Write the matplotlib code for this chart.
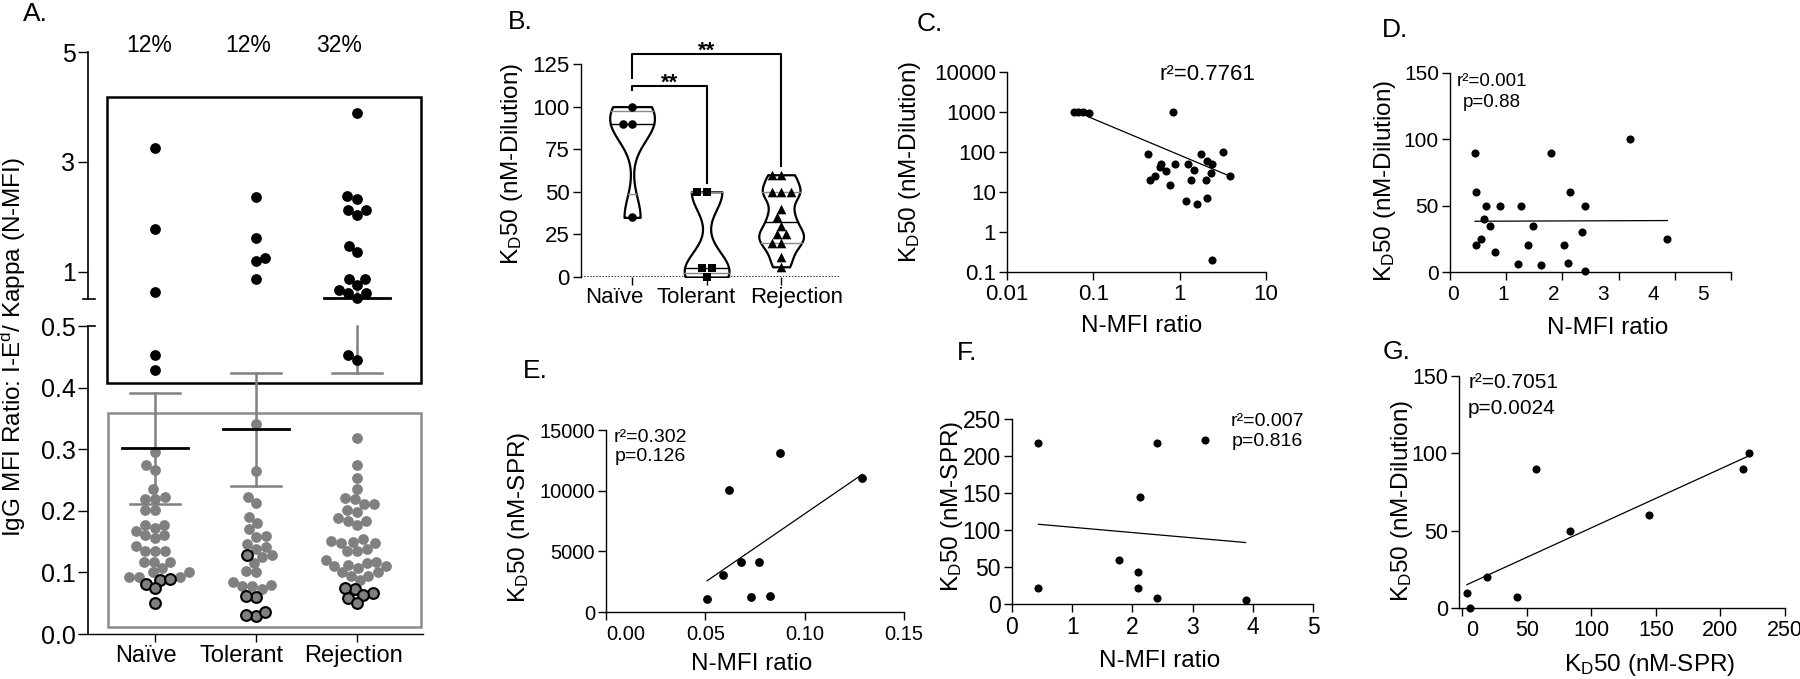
import numpy as np
import matplotlib
matplotlib.use("Agg")
import matplotlib.pyplot as plt
from matplotlib.patches import Rectangle
from matplotlib.ticker import NullLocator

# ----------------------------- Datos ----------------------------------------
GROUPS = ["Naïve", "Tolerant", "Rejection"]

# A. N-MFI ratio por ratón (pos = recuadro negro, neg = gris, neg_low = gris con borde)
A_NAIVE_POS = [3.25, 1.78, 0.64, 0.453, 0.429]
A_TOL_POS = [2.37, 1.62, 1.25, 1.19, 0.87]
A_REJ_POS = [3.89, 2.38, 2.33, 2.13, 2.13, 2.04, 1.47, 1.36, 0.87, 0.87,
             0.76, 0.67, 0.62, 0.62, 0.53, 0.453, 0.446]

A_NAIVE_NEG = [0.296, 0.274, 0.266, 0.235, 0.219, 0.223, 0.219, 0.202, 0.202,
               0.178, 0.178, 0.173, 0.167, 0.161, 0.161, 0.156, 0.143, 0.135,
               0.135, 0.135, 0.117, 0.117, 0.117, 0.108, 0.100, 0.100, 0.093,
               0.093, 0.093]
A_TOL_NEG = [0.341, 0.265, 0.222, 0.213, 0.191, 0.181, 0.170, 0.159, 0.158,
             0.146, 0.142, 0.139, 0.129, 0.126, 0.116, 0.103, 0.100, 0.084,
             0.080, 0.078, 0.078, 0.073]
A_REJ_NEG = [0.319, 0.274, 0.253, 0.235, 0.221, 0.219, 0.211, 0.212, 0.202,
             0.199, 0.189, 0.184, 0.184, 0.178, 0.150, 0.148, 0.148, 0.151,
             0.155, 0.138, 0.135, 0.135, 0.120, 0.117, 0.115, 0.110, 0.112,
             0.110, 0.107, 0.100, 0.100, 0.095, 0.095, 0.087]

A_NAIVE_LOW = [0.088, 0.089, 0.082, 0.074, 0.051]
A_TOL_LOW = [0.128, 0.060, 0.062, 0.029, 0.035, 0.031]
A_REJ_LOW = [0.073, 0.075, 0.067, 0.064, 0.058, 0.051]

A_MEAN = [0.302, 0.333, 0.53]
A_SD = [0.090, 0.092, 0.106]
A_PCT = ["12%", "12%", "32%"]

# B. KD50 (nM-Dilution)
B_NAIVE = [100, 90, 90, 35]
B_TOL = [50, 50, 5, 5, 0]
B_REJ = [60, 60, 50, 50, 50, 40, 35, 30, 25, 25, 20, 20, 12, 6]

# C. N-MFI ratio vs KD50 (log-log)
C_X = [0.059, 0.067, 0.075, 0.088, 0.83, 0.43, 0.45, 0.52, 0.59, 0.61, 0.70,
       0.78, 0.875, 1.24, 1.19, 1.36, 1.45, 1.59, 1.77, 2.02, 2.07, 2.07,
       2.37, 2.31, 2.37, 3.18, 3.79]
C_Y = [1000, 1000, 1000, 960, 1000, 89, 19.6, 25, 41, 49, 34, 15, 49, 49, 6,
       19.6, 34.6, 4.9, 89, 19.6, 60, 6.9, 49, 30, 0.2, 98, 25]
C_FIT_X = [0.085, 3.8]
C_FIT_Y = [780, 25]

# D. N-MFI ratio vs KD50 (lineal)
D_X = [0.445, 0.463, 0.463, 0.546, 0.605, 0.635, 0.712, 0.801, 0.890, 1.204,
       1.263, 1.382, 1.483, 1.613, 1.791, 2.028, 2.106, 2.135, 2.343, 2.408,
       2.408, 3.203, 3.867]
D_Y = [90, 60, 20, 25, 40, 50, 35, 15, 50, 6, 50, 20, 35, 5, 90, 20, 7, 60,
       30, 50, 0.5, 100, 25]

# E. N-MFI ratio vs KD50 (nM-SPR)
E_X = [0.0509, 0.059, 0.062, 0.0678, 0.0729, 0.0769, 0.0827, 0.0878, 0.129]
E_Y = [1070, 3070, 10060, 4090, 1230, 4090, 1340, 13080, 11080]

# F. N-MFI ratio vs KD50 (nM-SPR)
F_X = [0.44, 0.44, 1.78, 2.10, 2.10, 2.13, 2.41, 2.41, 3.21, 3.88]
F_Y = [217, 21, 59, 43, 21, 145, 217, 8, 222, 6]

# G. KD50 SPR vs KD50 dilución
G_X = [3.6, 6.2, 19.1, 42.3, 57.3, 83.1, 144.8, 217.3, 222.5]
G_Y = [10, 0, 20, 7, 90, 50, 60, 90, 100]

STATS_C = ["r²=0.7761"]
STATS_D = ["r²=0.001", "p=0.88"]
STATS_E = ["r²=0.302", "p=0.126"]
STATS_F = ["r²=0.007", "p=0.816"]
STATS_G = ["r²=0.7051", "p=0.0024"]

# ----------------------------- Estilo ---------------------------------------
plt.rcParams.update({
    "font.family": ["Liberation Sans", "DejaVu Sans"],
    "mathtext.fontset": "custom",
    "mathtext.rm": "Liberation Sans",
    "mathtext.it": "Liberation Sans:italic",
    "axes.linewidth": 1.0,
    "xtick.major.width": 1.0,
    "ytick.major.width": 1.0,
    "xtick.major.size": 6,
    "ytick.major.size": 6,
    "xtick.major.pad": 3,
    "ytick.major.pad": 2,
})

GREY = "#808080"
KD_DIL = r"K$_{\rm D}$50 (nM-Dilution)"
KD_SPR = r"K$_{\rm D}$50 (nM-SPR)"
W, H = 1800, 679

fig = plt.figure(figsize=(18, 6.79), dpi=100)


def box(l, t, r, b):
    """Caja en píxeles de la figura (origen arriba-izquierda) -> fracciones."""
    return [l / W, 1 - b / H, (r - l) / W, (b - t) / H]


def swarm(ax, xc, ys, d_px):
    """Beeswarm sencillo en coordenadas de pantalla; devuelve x en datos."""
    ys = np.asarray(ys, float)
    pts = ax.transData.transform(np.column_stack([np.full(len(ys), float(xc)), ys]))
    x0 = pts[0, 0]
    placed, xs = [], np.zeros(len(ys))
    for i in np.argsort(pts[:, 1], kind="stable"):
        y = pts[i, 1]
        ivs = []
        for px, py in placed:
            dy = abs(py - y)
            if dy < d_px:
                h = np.sqrt(d_px ** 2 - dy ** 2)
                ivs.append((px - h, px + h))
        cands = [0.0] + [e - x0 for iv in ivs for e in iv]
        cands.sort(key=lambda c: (abs(c), c))
        for c in cands:
            xx = x0 + c
            if all(not (a + 1e-6 < xx < b - 1e-6) for a, b in ivs):
                break
        placed.append((xx, y))
        xs[i] = xx
    return ax.transData.inverted().transform(np.column_stack([xs, pts[:, 1]]))[:, 0]


def clean(ax):
    ax.spines["top"].set_visible(False)
    ax.spines["right"].set_visible(False)


def shifted_xlabels(ax, ticks, labels, label_pos, pad):
    """Marcas en 'ticks' pero textos desplazados (como en el original de Prism)."""
    ax.xaxis.remove_overlapping_locs = False
    ax.set_xticks(ticks)
    ax.set_xticklabels([])
    ax.set_xticks(label_pos, labels, minor=True)
    ax.tick_params(axis="x", which="minor", length=0, pad=pad)


# ----------------------------- Panel A --------------------------------------
GAP, K_UP = 0.044, 0.0894


def fwd(y):
    y = np.asarray(y, float)
    return np.where(y <= 0.5, y, 0.5 + GAP + (y - 0.5) * K_UP)


def inv(t):
    t = np.asarray(t, float)
    return np.where(t <= 0.5, t,
                    np.where(t < 0.5 + GAP, 0.5, 0.5 + (t - 0.5 - GAP) / K_UP))


axA = fig.add_axes(box(88, 52, 423, 634))
axA.set_yscale("function", functions=(fwd, inv))
axA.set_xlim(-0.663, 2.653)
axA.set_ylim(0, 5)
clean(axA)
axA.spines["left"].set_visible(False)
axA.set_yticks([0, 0.1, 0.2, 0.3, 0.4, 0.5, 1, 3, 5],
               ["0.0", "0.1", "0.2", "0.3", "0.4", "0.5", "1", "3", "5"])
axA.tick_params(axis="y", labelsize=18, length=7)
shifted_xlabels(axA, range(3), GROUPS, [-0.09, 0.86, 1.97], pad=8)
axA.tick_params(axis="x", which="both", labelsize=17)
ytr = axA.get_yaxis_transform()
axA.plot([0, 0], [0, 0.5], transform=ytr, color="k", lw=1.2, clip_on=False)
axA.plot([0, 0], [0.500001, 5], transform=ytr, color="k", lw=1.2, clip_on=False)
axA.plot([-0.015, 0.02], [0.500001, 0.500001], transform=ytr, color="k", lw=1.2, clip_on=False)
axA.plot([0, 0.02], [0.5, 0.5], transform=ytr, color="k", lw=1.2, clip_on=False)

axA.add_patch(Rectangle((-0.475, 0.408), 3.109, 4.18 - 0.408, fill=False,
                        edgecolor="black", lw=1.8, zorder=1, clip_on=False))
axA.add_patch(Rectangle((-0.465, 0.011), 3.099, 0.36 - 0.011, fill=False,
                        edgecolor="#8c8c8c", lw=1.8, zorder=1, clip_on=False))

A_POS = [A_NAIVE_POS, A_TOL_POS, A_REJ_POS]
A_NEG = [A_NAIVE_NEG, A_TOL_NEG, A_REJ_NEG]
A_LOW = [A_NAIVE_LOW, A_TOL_LOW, A_REJ_LOW]
for i in range(3):
    ys = np.concatenate([A_POS[i], A_NEG[i], A_LOW[i]])
    xs = swarm(axA, i, ys, 10.0)
    n1, n2 = len(A_POS[i]), len(A_POS[i]) + len(A_NEG[i])
    axA.scatter(xs[:n1], ys[:n1], s=60, c="black", lw=0, zorder=3, clip_on=False)
    axA.scatter(xs[n1:n2], ys[n1:n2], s=60, c=GREY, lw=0, zorder=3, clip_on=False)
    axA.scatter(xs[n2:], ys[n2:], s=60, c=GREY, edgecolors="black", lw=1.5,
                zorder=3, clip_on=False)

    m, sd = A_MEAN[i], A_SD[i]
    lo, hi = m - sd, m + sd
    if lo < 0.5:
        axA.plot([i, i], [lo, min(hi, 0.5)], color=GREY, lw=1.8, zorder=2)
    if hi > 0.5:
        axA.plot([i, i], [max(lo, 0.500001), hi], color=GREY, lw=1.8, zorder=2)
    for c in (lo, hi):
        if c <= 0.5:
            axA.plot([i - 0.25, i + 0.25], [c, c], color=GREY, lw=1.8, zorder=2)
    axA.plot([i - 0.33, i + 0.33], [m, m], color="black", lw=2, zorder=4)

for i, (txt, dx) in enumerate(zip(A_PCT, [-0.06, -0.08, -0.18])):
    axA.annotate(txt, (i + dx, 5), xytext=(0, 5), textcoords="offset points",
                 ha="center", va="center", fontsize=16.5, annotation_clip=False)

axA.set_ylabel(r"IgG MFI Ratio: I-E$^{\rm d}$/ Kappa (N-MFI)", fontsize=17.5)
axA.yaxis.set_label_coords(-0.179, 0.493)

# ----------------------------- Panel B --------------------------------------
axB = fig.add_axes(box(581, 64, 840, 277))
axB.set_xlim(-0.685, 2.79)
axB.set_ylim(0, 125)
clean(axB)
axB.spines["bottom"].set_visible(False)
axB.axhline(0, color="k", lw=1.1, ls=(0, (1, 1)), zorder=1)
axB.set_yticks([0, 25, 50, 75, 100, 125])
shifted_xlabels(axB, range(3), GROUPS, [-0.24, 0.86, 2.21], pad=7)
axB.tick_params(which="both", labelsize=16)


def violin(ax, pos, vals, bw, half_w=0.3):
    v = np.asarray(vals, float)
    yy = np.linspace(v.min(), v.max(), 300)
    dens = np.exp(-0.5 * ((yy[:, None] - v[None, :]) / bw) ** 2).sum(axis=1)
    w = dens / dens.max() * half_w
    ax.fill_betweenx(yy, pos - w, pos + w, facecolor="white", edgecolor="black",
                     lw=1.6, zorder=2)
    q1, q2, q3 = np.percentile(v, [25, 50, 75], method="weibull")
    for q, col in ((q1, "#8a8a8a"), (q2, "black"), (q3, "#8a8a8a")):
        hw = np.interp(q, yy, w)
        ax.plot([pos - hw, pos + hw], [q, q], color=col, lw=1, zorder=3)


B_DATA = [B_NAIVE, B_TOL, B_REJ]
for i, (vals, mk, sz, bw) in enumerate(zip(B_DATA, ["o", "s", "^"], [38, 36, 48],
                                             [12, 11, 5.5])):
    violin(axB, i, vals, bw)
    xs = swarm(axB, i, vals, 9.5)
    axB.scatter(xs, vals, marker=mk, s=sz, c="black", lw=0, zorder=4, clip_on=False)

axB.plot([0, 0, 2, 2], [117, 131, 131, 65], color="k", lw=1.5, clip_on=False)
axB.plot([0, 0, 1, 1], [110, 112, 112, 55], color="k", lw=1.5, clip_on=False)
axB.text(1, 129, "**", ha="center", va="baseline", fontsize=16, fontweight="bold")
axB.text(0.5, 110.5, "**", ha="center", va="baseline", fontsize=16, fontweight="bold")
axB.set_ylabel(KD_DIL, fontsize=17.5)
axB.yaxis.set_label_coords(-0.216, 0.53)

# ----------------------------- Panel C --------------------------------------
axC = fig.add_axes(box(1007, 72, 1266, 272))
axC.set_xscale("log")
axC.set_yscale("log")
axC.set_xlim(0.01, 10)
axC.set_ylim(0.1, 10000)
clean(axC)
axC.set_xticks([0.01, 0.1, 1, 10], ["0.01", "0.1", "1", "10"])
axC.set_yticks([0.1, 1, 10, 100, 1000, 10000],
               ["0.1", "1", "10", "100", "1000", "10000"])
axC.xaxis.set_minor_locator(NullLocator())
axC.yaxis.set_minor_locator(NullLocator())
axC.tick_params(labelsize=16)
axC.scatter(C_X, C_Y, s=34, c="black", lw=0, zorder=3, clip_on=False)
axC.plot(C_FIT_X, C_FIT_Y, color="black", lw=0.9)
axC.text(0.59, 0.985, STATS_C[0], transform=axC.transAxes, fontsize=16,
         ha="left", va="center")
axC.set_ylabel(KD_DIL, fontsize=17.5)
axC.yaxis.set_label_coords(-0.324, 0.55)
axC.set_xlabel("N-MFI ratio", fontsize=17.5)
axC.xaxis.set_label_coords(0.52, -0.215)


def linear_panel(ax, x, y, xlim, ylim, xticks, yticks, s=34):
    ax.set_xlim(*xlim)
    ax.set_ylim(*ylim)
    clean(ax)
    ax.set_xticks(xticks)
    ax.set_yticks(yticks)
    ax.scatter(x, y, s=s, c="black", lw=0, zorder=3, clip_on=False)
    b, a = np.polyfit(x, y, 1)
    xx = np.array([min(x), max(x)])
    ax.plot(xx, a + b * xx, color="black", lw=0.9)


def stats(ax, lines, x, ys, fs, ha):
    for t, yy in zip(lines, ys):
        ax.text(x, yy, t, transform=ax.transAxes, fontsize=fs, ha=ha, va="center")


# ----------------------------- Panel D --------------------------------------
axD = fig.add_axes(box(1450, 73, 1731, 272))
linear_panel(axD, D_X, D_Y, (0, 5), (0, 150), range(6), [0, 50, 100, 150])
shifted_xlabels(axD, range(6), [str(k) for k in range(6)],
                np.arange(6) * 0.89 + 0.06, pad=9)
axD.tick_params(labelsize=15, which="both")
stats(axD, STATS_D, 0.15, [0.955, 0.85], 13.5, "center")
axD.set_ylabel(KD_DIL, fontsize=17.5)
axD.yaxis.set_label_coords(-0.185, 0.457)
axD.set_xlabel("N-MFI ratio", fontsize=17.5)
axD.xaxis.set_label_coords(0.562, -0.226)

# ----------------------------- Panel E --------------------------------------
axE = fig.add_axes(box(606, 430, 904, 612))
linear_panel(axE, E_X, E_Y, (0, 0.15), (0, 15000), [0, 0.05, 0.10, 0.15],
             [0, 5000, 10000, 15000], s=40)
shifted_xlabels(axE, [0, 0.05, 0.10, 0.15], ["0.00", "0.05", "0.10", "0.15"],
                [0.01, 0.05, 0.10, 0.15], pad=9)
axE.tick_params(labelsize=14.5, which="both")
stats(axE, STATS_E, 0.148, [0.96, 0.857], 14, "center")
axE.set_ylabel(KD_SPR, fontsize=17.5)
axE.yaxis.set_label_coords(-0.248, 0.522)
axE.set_xlabel("N-MFI ratio", fontsize=17.5)
axE.xaxis.set_label_coords(0.49, -0.225)

# ----------------------------- Panel F --------------------------------------
axF = fig.add_axes(box(1012, 419, 1313, 604))
linear_panel(axF, F_X, F_Y, (0, 5), (0, 250), range(6), [0, 50, 100, 150, 200, 250])
axF.tick_params(labelsize=16.5)
stats(axF, STATS_F, 0.847, [0.984, 0.876], 14, "center")
axF.set_ylabel(KD_SPR, fontsize=17.5)
axF.yaxis.set_label_coords(-0.156, 0.53)
axF.set_xlabel("N-MFI ratio", fontsize=17.5)
axF.xaxis.set_label_coords(0.49, -0.249)

# ----------------------------- Panel G --------------------------------------
axG = fig.add_axes(box(1459, 376, 1785, 608))
linear_panel(axG, G_X, G_Y, (-2.5, 250), (0, 150), [0, 50, 100, 150, 200, 250],
             [0, 50, 100, 150])
shifted_xlabels(axG, [0, 50, 100, 150, 200, 250], ["0", "50", "100", "150", "200", "250"],
                [7.7, 50, 100, 150, 200, 250], pad=9)
axG.tick_params(labelsize=15.5, which="both")
stats(axG, STATS_G, 0.028, [0.97, 0.862], 15, "left")
axG.set_ylabel(KD_DIL, fontsize=17.5)
axG.yaxis.set_label_coords(-0.135, 0.46)
axG.set_xlabel(KD_SPR, fontsize=17.5)
axG.xaxis.set_label_coords(0.586, -0.19)

# ----------------------------- Letras ---------------------------------------
for lab, x, y in [("A.", 23, 14), ("B.", 508, 22), ("C.", 917, 24), ("D.", 1382, 30),
                  ("E.", 523, 371), ("F.", 957, 353), ("G.", 1383, 352)]:
    fig.text(x / W, 1 - y / H, lab, fontsize=19, ha="left", va="center")

fig.savefig("out.png", dpi=100, facecolor="white")
